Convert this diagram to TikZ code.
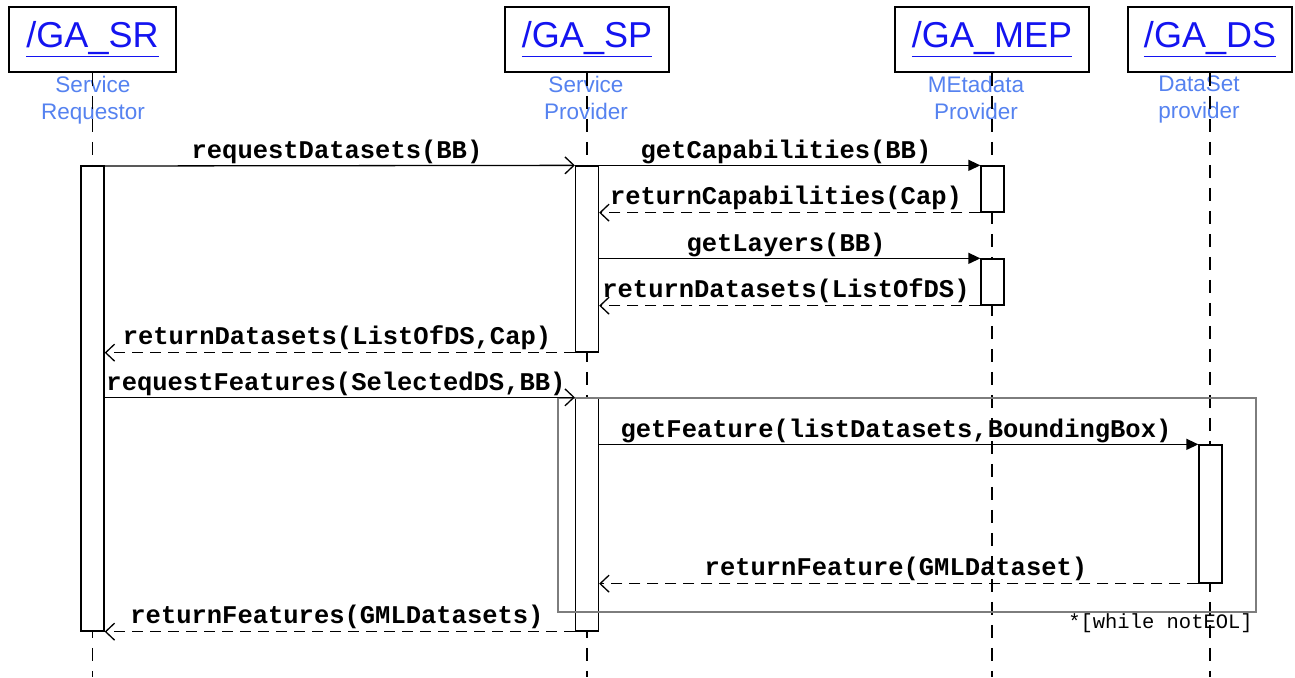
\documentclass[tikz,border=0pt]{standalone}
\usepackage{fontspec}
\setmainfont{Liberation Sans}
\newfontfamily\cour{Liberation Mono}
\usetikzlibrary{arrows.meta}
\definecolor{hdrblue}{RGB}{20,20,240}
\definecolor{lblblue}{RGB}{85,130,240}
\definecolor{framegray}{RGB}{125,125,125}
\tikzset{
  head/.style={draw, line width=1.5pt, minimum width=#1, minimum height=65pt, inner sep=0pt,
    font=\fontsize{36}{40}\selectfont, text=hdrblue},
  role/.style={text=lblblue, align=center, font=\fontsize{22.5}{27}\selectfont, inner sep=0pt, anchor=north},
  life/.style={line width=1.4pt, dash pattern=on 13pt off 10pt},
  bar/.style={draw, fill=white, line width=1.3pt, minimum width=23pt, inner sep=0pt},
  msg/.style={font=\cour\bfseries\fontsize{25.5}{28}\selectfont, anchor=base, inner sep=0pt},
  call/.style={line width=1.3pt, -{Triangle[length=12pt,width=11pt]}},
  send/.style={line width=1.3pt, -{Straight Barb[length=9pt,width=17pt]}},
  reply/.style={line width=1.3pt, dash pattern=on 11pt off 7pt, -{Straight Barb[length=9pt,width=17pt]}},
  loopframe/.style={draw=framegray, line width=1.8pt, inner sep=0pt},
}
\begin{document}
\begin{tikzpicture}[x=1pt,y=-1pt]
\useasboundingbox[fill=white] (0,0) rectangle (1295,677);
% headers
\node[head=167pt] (sr) at (92.5,39.5) {\underline{/GA\_SR}};
\node[head=164pt] (sp) at (587,39.5) {\underline{/GA\_SP}};
\node[head=194pt] (mep) at (992,39.5) {\underline{/GA\_MEP}};
\node[head=164pt] (ds) at (1210,39.5) {\underline{/GA\_DS}};
% roles
\node[role] (srrole) at (93,76) {Service\\Requestor};
\node[role] (sprole) at (586,76) {Service\\Provider};
\node[role] (meprole) at (976,76) {MEtadata\\Provider};
\node[role] (dsrole) at (1199,76) {DataSet\\provider};
% lifelines
\draw[life] (sr.south) -- (sr.south |- 0,677);
\draw[life] (sp.south) -- (sp.south |- 0,677);
\draw[life] (mep.south) -- (mep.south |- 0,677);
\draw[life] (ds.south) -- (ds.south |- 0,677);
% activation bars
\node[bar, minimum height=465pt] (sr1) at (92.5,398.5) {};
\node[bar, minimum height=186pt] (sp1) at (587,259) {};
\node[bar, minimum height=233pt] (sp2) at (587,514.5) {};
\node[bar, minimum height=46pt] (mep1) at (992.5,189) {};
\node[bar, minimum height=46pt] (mep2) at (992.5,282) {};
\node[bar, minimum height=138pt] (ds1) at (1210.5,514) {};
% loop frame
\node[loopframe, minimum width=698pt, minimum height=214pt] (loop) at (907,505) {};
\node[anchor=north east, inner sep=0pt, font=\cour\fontsize{20.5}{24}\selectfont] (cond) at (1253,613) {*[while notEOL]};
% messages
\draw[send] (sr1.east |- 0,166) -- (sp1.north west);
\node[msg] (l1) at (337,158) {requestDatasets(BB)};
\draw[call] (sp1.east |- mep1.north) -- (mep1.north west);
\node[msg] (l2) at (786,158) {getCapabilities(BB)};
\draw[reply] (mep1.south west) -- (sp1.east |- mep1.south);
\node[msg] (l3) at (786,204) {returnCapabilities(Cap)};
\draw[call] (sp1.east |- mep2.north) -- (mep2.north west);
\node[msg] (l4) at (786,251) {getLayers(BB)};
\draw[reply] (mep2.south west) -- (sp1.east |- mep2.south);
\node[msg] (l5) at (786,297) {returnDatasets(ListOfDS)};
\draw[reply] (sp1.south west) -- (sr1.east |- sp1.south);
\node[msg] (l6) at (337,344) {returnDatasets(ListOfDS,Cap)};
\draw[send] (sr1.east |- sp2.north) -- (sp2.north west);
\node[msg] (l7) at (336,390) {requestFeatures(SelectedDS,BB)};
\draw[call] (sp2.east |- ds1.north) -- (ds1.north west);
\node[msg] (l8) at (896,437) {getFeature(listDatasets,BoundingBox)};
\draw[reply] (ds1.south west) -- (sp2.east |- ds1.south);
\node[msg] (l9) at (896,575) {returnFeature(GMLDataset)};
\draw[reply] (sp2.south west) -- (sr1.east |- sp2.south);
\node[msg] (l10) at (337,623) {returnFeatures(GMLDatasets)};
\end{tikzpicture}
\end{document}
